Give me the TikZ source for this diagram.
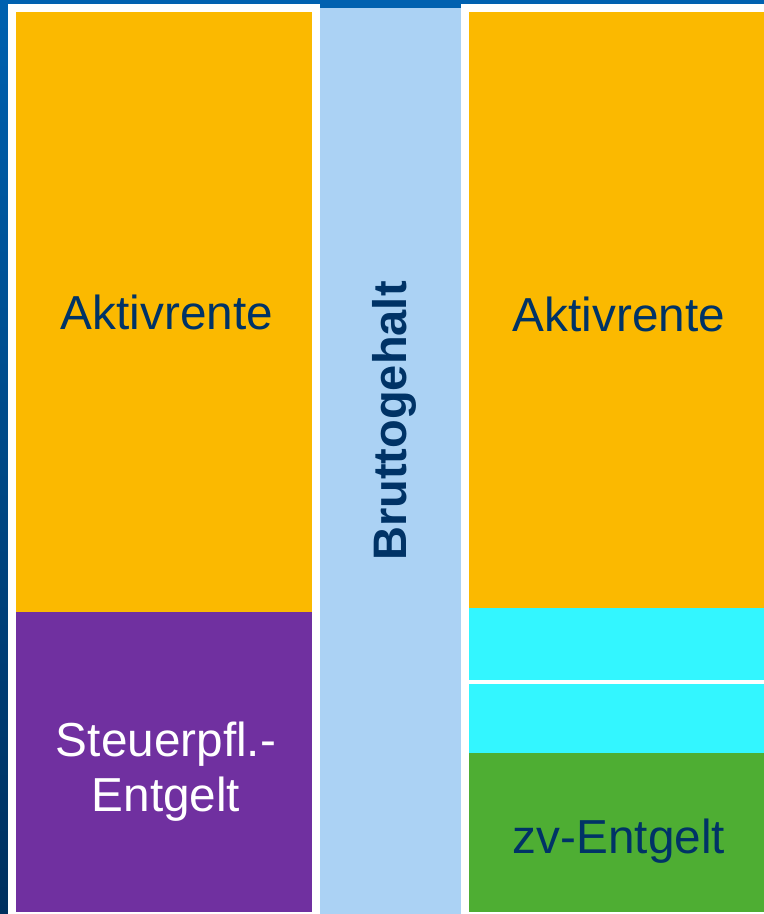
\documentclass[tikz,border=0pt]{standalone}
\usepackage{fontspec}
\setmainfont{Liberation Sans}
\definecolor{bgtop}{HTML}{0061B0}
\definecolor{bgbot}{HTML}{00305E}
\definecolor{navy}{HTML}{003366}
\definecolor{gold}{HTML}{FBB900}
\definecolor{violet}{HTML}{7030A0}
\definecolor{aqua}{HTML}{33F6FF}
\definecolor{leaf}{HTML}{4EAE33}
\definecolor{sky}{HTML}{ABD2F4}
\begin{document}
\begin{tikzpicture}[x=1bp, y=-1bp]
  % Define styles
  \tikzstyle{panel} = [rectangle, fill=white, inner sep=0pt, outer sep=0pt, anchor=north west]
  \tikzstyle{block} = [rectangle, inner sep=0pt, outer sep=0pt, anchor=north west]
  \tikzstyle{caption} = [anchor=base, inner sep=0pt, text=navy, font=\fontsize{47.7bp}{55bp}\selectfont]

  % Background
  \useasboundingbox (0,0) rectangle (764,914);
  \shade [top color=bgtop, bottom color=bgbot] (0,0) rectangle (764,914);

  % Panels
  \node (left) [panel, minimum width=312bp, minimum height=910bp] at (8,4) {};
  \node (gross) [panel, fill=sky, minimum width=141bp, minimum height=906bp] at (320,8) {};
  \node (right) [panel, minimum width=303bp, minimum height=910bp] at (461,4) {};

  % Left column
  \node (activeL) [block, fill=gold, minimum width=296bp, minimum height=600bp] at (16,12) {};
  \node (taxable) [block, fill=violet, minimum width=296bp, minimum height=300bp] at (16,612) {};

  % Right column
  \node (activeR) [block, fill=gold, minimum width=295bp, minimum height=596bp] at (469,12) {};
  \node (extraA) [block, fill=aqua, minimum width=295bp, minimum height=72bp] at (469,608) {};
  \node (extraB) [block, fill=aqua, minimum width=295bp, minimum height=69bp] at (469,684) {};
  \node (zvpay) [block, fill=leaf, minimum width=295bp, minimum height=159bp] at (469,753) {};

  % Labels
  \node (activeLtext) [caption] at (167,329) {Aktivrente};
  \node (taxabletext1) [caption, text=white] at (166,756) {Steuerpfl.-};
  \node (taxabletext2) [caption, text=white] at (166,811) {Entgelt};
  \node (activeRtext) [caption] at (619,331) {Aktivrente};
  \node (zvpaytext) [caption] at (619,853) {zv-Entgelt};
  \node (grosstext) [caption, rotate=90, font=\fontsize{47bp}{55bp}\selectfont\bfseries] at (406,421) {Bruttogehalt};
\end{tikzpicture}
\end{document}
